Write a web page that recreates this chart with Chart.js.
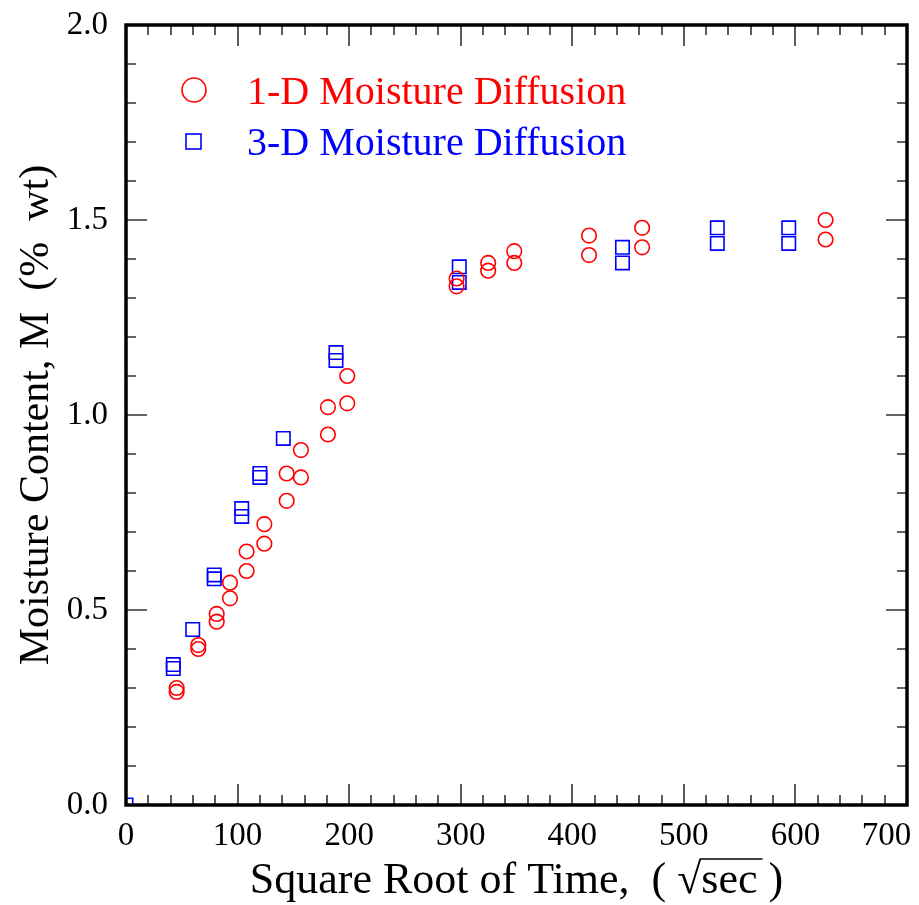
<!DOCTYPE html>
<html>
<head>
<meta charset="utf-8">
<script src="https://cdn.jsdelivr.net/npm/chart.js@4/dist/chart.umd.min.js"></script>
<style>
html,body{margin:0;padding:0;background:#fff}
canvas{display:block}
</style>
</head>
<body>
<canvas id="moistChart" width="919" height="905"></canvas>
<script>
// 1-D moisture diffusion (red circles)
const oneD_x=[45.4,45.4,64.8,64.8,81.3,81.3,93.2,93.2,108.1,108.1,124,124,144,144,156.8,156.8,181,181,198.3,198.3,296.3,296.3,324.6,324.6,348,348,415,415,462.6,462.6,627,627]
const oneD_y=[0.30,0.29,0.41,0.40,0.49,0.47,0.57,0.53,0.65,0.60,0.72,0.67,0.85,0.78,0.91,0.84,1.02,0.95,1.10,1.03,1.35,1.33,1.39,1.37,1.42,1.39,1.46,1.41,1.48,1.43,1.50,1.45]

// 3-D moisture diffusion (blue squares)
const threeD_x=[0,42.4,42.4,59.8,79.1,79.1,103.7,103.7,120,120,141,188.2,188.2,298.7,298.7,445,445,530,530,594,594]
const threeD_y=[0,0.36,0.35,0.45,0.59,0.58,0.76,0.74,0.85,0.84,0.94,1.16,1.14,1.38,1.34,1.43,1.39,1.48,1.44,1.48,1.44]

const xTicks=[0,100,200,300,400,500,600,700]
const yTicks=[0.0,0.5,1.0,1.5,2.0]
const seriesNames=["1-D Moisture Diffusion","3-D Moisture Diffusion"]

const serif="'Liberation Serif','Times New Roman',serif"

function pts(xs,ys){
return xs.map((x,i)=>({x:x,y:ys[i]}))
}

function noPad(s){
s.paddingLeft=0
s.paddingRight=0
s.paddingTop=0
s.paddingBottom=0
}

// frame, inward ticks, legend and x title
const decor={
id:"decor",
afterDatasetsDraw(chart){
const c=chart.ctx
const a=chart.chartArea
const xs=chart.scales.x
const ys=chart.scales.y
c.save()
c.strokeStyle="#333"
c.lineWidth=1.6
for(let v=0;v<=700;v+=20){
const px=Math.round(xs.getPixelForValue(v))
const len=(v%100===0)?21:10
c.beginPath()
c.moveTo(px,a.bottom);c.lineTo(px,a.bottom-len)
c.moveTo(px,a.top);c.lineTo(px,a.top+len)
c.stroke()
}
for(let k=0;k<=20;k++){
const v=k/10
const py=Math.round(ys.getPixelForValue(v))
const len=(k%5===0)?21:10
c.beginPath()
c.moveTo(a.left,py);c.lineTo(a.left+len,py)
c.moveTo(a.right,py);c.lineTo(a.right-len,py)
c.stroke()
}
c.strokeStyle="#000"
c.lineWidth=3.5
c.strokeRect(a.left,a.top,a.right-a.left,a.bottom-a.top)

// legend
c.lineWidth=1.6
c.strokeStyle="#ff0000"
c.beginPath()
c.arc(194,90,12,0,Math.PI*2)
c.stroke()
c.strokeStyle="#0000ff"
c.strokeRect(186,134,15,15)
c.font="40px "+serif
c.textBaseline="alphabetic"
c.textAlign="left"
c.fillStyle="#ff0000"
c.fillText(seriesNames[0],247,104)
c.fillStyle="#0000ff"
c.fillText(seriesNames[1],247,155)

// x axis title with radical bar
c.fillStyle="#000"
c.font="44px "+serif
const pre="Square Root of Time,  ( \u221A"
const mid="sec"
const post=" )"
const full=pre+mid+post
const w=c.measureText(full).width
const cx=(a.left+a.right)/2
const x0=cx-w/2
const base=893
c.fillText(full,x0,base)
const wp=c.measureText(pre).width
const wm=c.measureText(mid).width
c.strokeStyle="#000"
c.lineWidth=1.6
c.beginPath()
c.moveTo(x0+wp-1,base-34)
c.lineTo(x0+wp+wm+5,base-34)
c.stroke()
c.restore()
}
}

new Chart(document.getElementById("moistChart"),{
type:"scatter",
data:{
datasets:[
{
label:seriesNames[0],
data:pts(oneD_x,oneD_y),
pointStyle:"circle",
pointRadius:7.3,
pointHoverRadius:7.3,
borderColor:"#ff0000",
backgroundColor:"rgba(0,0,0,0)",
pointBorderWidth:1.6,
clip:0
},
{
label:seriesNames[1],
data:pts(threeD_x,threeD_y),
pointStyle:"rect",
pointRadius:9.5,
pointHoverRadius:9.5,
borderColor:"#0000ff",
backgroundColor:"rgba(0,0,0,0)",
pointBorderWidth:1.6,
clip:0
}
]
},
options:{
responsive:false,
animation:false,
events:[],
layout:{padding:{top:25,right:12,left:0,bottom:0}},
plugins:{legend:{display:false},tooltip:{enabled:false}},
scales:{
x:{
type:"linear",
min:0,max:700,
afterFit:s=>{s.height=100;noPad(s)},
afterBuildTicks:s=>{s.ticks=xTicks.map(v=>({value:v}))},
grid:{display:false,drawTicks:false},
border:{display:false},
ticks:{color:"#000",padding:12,font:{family:serif,size:33},maxRotation:0,
callback:v=>v===700?"700     ":String(v)}
},
y:{
type:"linear",
min:0,max:2,
afterFit:s=>{s.width=126;noPad(s)},
afterBuildTicks:s=>{s.ticks=yTicks.map(v=>({value:v}))},
grid:{display:false,drawTicks:false},
border:{display:false},
title:{display:true,text:"Moisture Content, M  (%  wt)",color:"#000",font:{family:serif,size:42},padding:{top:12,bottom:0}},
ticks:{color:"#000",padding:18,font:{family:serif,size:33},callback:v=>v.toFixed(1)}
}
}
},
plugins:[decor]
})
</script>
</body>
</html>
